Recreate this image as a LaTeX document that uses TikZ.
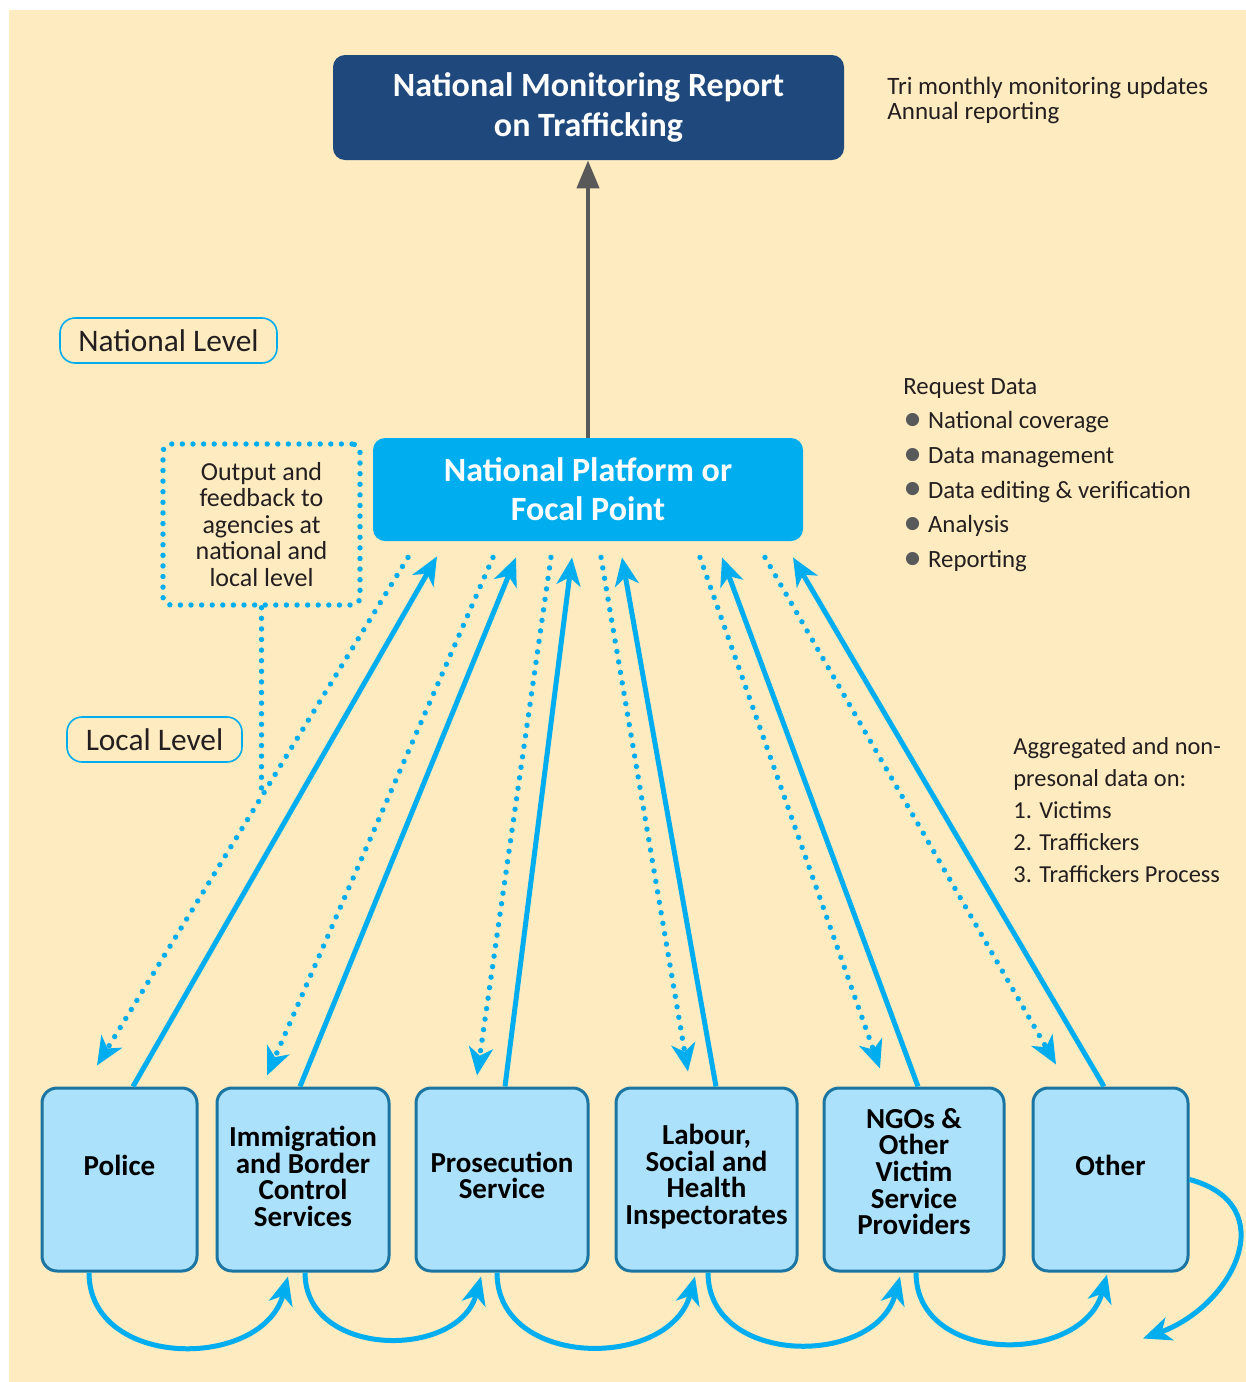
\documentclass[tikz,border=0pt]{standalone}
\usepackage{fontspec}
\setmainfont{Carlito}
\usetikzlibrary{arrows.meta,calc}

\definecolor{cream}{HTML}{FEEBBF}
\definecolor{navy}{HTML}{1F497D}
\definecolor{cyanblue}{HTML}{00AEEF}
\definecolor{paleblue}{HTML}{ABE1FA}
\definecolor{edgeblue}{HTML}{1B75A2}
\definecolor{inkgray}{HTML}{231F20}
\definecolor{dotgray}{HTML}{58595B}
\definecolor{stemgray}{HTML}{595959}

\newcommand{\rdot}{\textcolor{dotgray}{\raisebox{-0.15ex}{\scalebox{1.5}{\textbullet}}}\hspace{0.25em}}

\begin{document}
\begin{tikzpicture}[x=0.5pt, y=-0.5pt,
    head/.style = {fill=navy, rounded corners=6pt, text=white, align=center, inner sep=0pt,
                   font=\bfseries\fontsize{17}{20}\selectfont, minimum width=255.5pt, minimum height=52.5pt},
    hub/.style = {fill=cyanblue, rounded corners=6pt, text=white, align=center, inner sep=0pt,
                  font=\bfseries\fontsize{17}{19.5}\selectfont, minimum width=215pt, minimum height=51.5pt},
    level/.style = {draw=cyanblue, line width=0.8pt, rounded corners=7.5pt, text=inkgray, inner sep=0pt,
                    font=\fontsize{15.7}{19}\selectfont, minimum height=22.5pt},
    feedbox/.style = {draw=cyanblue, line width=2.7pt, dash pattern=on 0pt off 5.3pt, line cap=round,
                      rounded corners=4pt, text=inkgray, align=center, inner sep=0pt,
                      font=\fontsize{13}{13.25}\selectfont, minimum width=98.5pt, minimum height=80.5pt},
    sidenote/.style = {anchor=west, align=left, inner sep=0pt, text=inkgray},
    agency/.style = {draw=edgeblue, fill=paleblue, line width=1.5pt, rounded corners=7.5pt,
                     minimum height=91.5pt, inner sep=0pt},
    agencytxt/.style = {align=center, inner sep=0pt, font=\bfseries\fontsize{14.5}{13.35}\selectfont},
    stem/.style = {draw=stemgray, line width=2.2pt, -{Triangle[length=14pt,width=11pt]}},
    sendup/.style = {draw=cyanblue, line width=2.5pt, -{Stealth[length=14pt,width=12pt,inset=4pt]}},
    feedback/.style = {draw=cyanblue, line width=2.7pt, dash pattern=on 0pt off 5.3pt, line cap=round,
                       -{Stealth[length=14pt,width=12pt,inset=4pt]}},
    feeddots/.style = {draw=cyanblue, line width=2.7pt, dash pattern=on 0pt off 5.3pt, line cap=round},
    handover/.style = {draw=cyanblue, line width=2.5pt, -{Stealth[length=14pt,width=12pt,inset=4pt]}}
]

    \useasboundingbox (0,0) rectangle (1246,1382);
    \fill[cream] (9,10) rectangle (1246,1382);

    % national level
    \node[head] (report) at (588.5,107.5) {National Monitoring Report\\on Trafficking};
    \node[hub] (platform) at (588,489.5) {National Platform or\\Focal Point};
    \node[level, minimum width=108.5pt] (national) at (168.5,340.5) {National Level};
    \node[level, minimum width=87.5pt] (local) at (154.5,739.5) {Local Level};
    \node[feedbox] (output) at (261.5,524.5) {Output and\\feedback to\\agencies at\\national and\\local level};

    \node[sidenote, font=\fontsize{12.5}{12.5}\selectfont] (updates) at (887,100.5)
        {Tri monthly monitoring updates\\Annual reporting};
    \node[sidenote, font=\fontsize{12.4}{17.35}\selectfont] (request) at (903,475)
        {Request Data\\ \rdot National coverage\\ \rdot Data management\\
         \rdot Data editing \& verification\\ \rdot Analysis\\ \rdot Reporting};
    \node[sidenote, font=\fontsize{12.2}{16}\selectfont] (aggregate) at (1013,810)
        {Aggregated and non-\\presonal data on:\\1. Victims\\2. Traffickers\\3. Traffickers Process};

    \draw[stem] (platform.north) -- (platform.north |- report.south);

    % local agencies
    \node[agency, minimum width=77.5pt] (police) at (119.5,1179.5) {};
    \node[agency, minimum width=86pt] (immigration) at (303,1179.5) {};
    \node[agency, minimum width=86pt] (prosecution) at (502,1179.5) {};
    \node[agency, minimum width=90.5pt] (labour) at (706.5,1179.5) {};
    \node[agency, minimum width=90pt] (ngos) at (914,1179.5) {};
    \node[agency, minimum width=77.5pt] (other) at (1110.5,1179.5) {};

    \node[agencytxt] (policeT) at ($(police.center)+(0,-14)$) {Police};
    \node[agencytxt] (immigrationT) at ($(immigration.center)+(0,-3)$) {Immigration\\and Border\\Control\\Services};
    \node[agencytxt] (prosecutionT) at ($(prosecution.center)+(0,-4)$) {Prosecution\\Service};
    \node[agencytxt] (labourT) at ($(labour.center)+(0,-3)$) {Labour,\\Social and\\Health\\Inspectorates};
    \node[agencytxt] (ngosT) at ($(ngos.center)+(0,-8)$) {NGOs \&\\Other\\Victim\\Service\\Providers};
    \node[agencytxt] (otherT) at ($(other.center)+(0,-14)$) {Other};

    % data going up
    \draw[sendup] ($(police.north)+(13.5,0)$) -- ($(platform.south)+(-151,15)$);
    \draw[sendup] ($(immigration.north)+(-3,0)$) -- ($(platform.south)+(-72,16)$);
    \draw[sendup] ($(prosecution.north)+(3,0)$) -- ($(platform.south)+(-16,16)$);
    \draw[sendup] ($(labour.north)+(9.5,0)$) -- ($(platform.south)+(34,16)$);
    \draw[sendup] ($(ngos.north)+(4,0)$) -- ($(platform.south)+(134,16)$);
    \draw[sendup] ($(other.north)+(-6.5,0)$) -- ($(platform.south)+(205,16)$);

    % feedback going down
    \draw[feedback] ($(platform.south)+(-180,16)$) -- coordinate[pos=0.469] (meet) ($(police.north)+(-22.5,-21)$);
    \draw[feedback] ($(platform.south)+(-95,16)$) -- ($(immigration.north)+(-36,-11)$);
    \draw[feedback] ($(platform.south)+(-37,16)$) -- ($(prosecution.north)+(-25,-11)$);
    \draw[feedback] ($(platform.south)+(13,16)$) -- ($(labour.north)+(-18.5,-15)$);
    \draw[feedback] ($(platform.south)+(112,16)$) -- ($(ngos.north)+(-34,-18)$);
    \draw[feedback] ($(platform.south)+(177,16)$) -- ($(other.north)+(-54.5,-22)$);
    \draw[feeddots] (output.south) -- (output.south |- meet);

    % hand over between agencies
    \draw[handover] ($(police.south)+(-30.5,0)$) to[out=-90, in=-105, looseness=1.25] ($(immigration.south)+(-15,4)$);
    \draw[handover] ($(immigration.south)+(2,0)$) to[out=-90, in=-105, looseness=1.25] ($(prosecution.south)+(-21,4)$);
    \draw[handover] ($(prosecution.south)+(-5,0)$) to[out=-90, in=-105, looseness=1.25] ($(labour.south)+(-11.5,4)$);
    \draw[handover] ($(labour.south)+(1.5,0)$) to[out=-90, in=-105, looseness=1.25] ($(ngos.south)+(-14,4)$);
    \draw[handover] ($(ngos.south)+(2,0)$) to[out=-90, in=-105, looseness=1.25] ($(other.south)+(-3.5,2)$);
    \draw[handover] (other.east) to[out=-15, in=20, looseness=1.5] ($(other.south)+(32.5,66)$);

\end{tikzpicture}
\end{document}
